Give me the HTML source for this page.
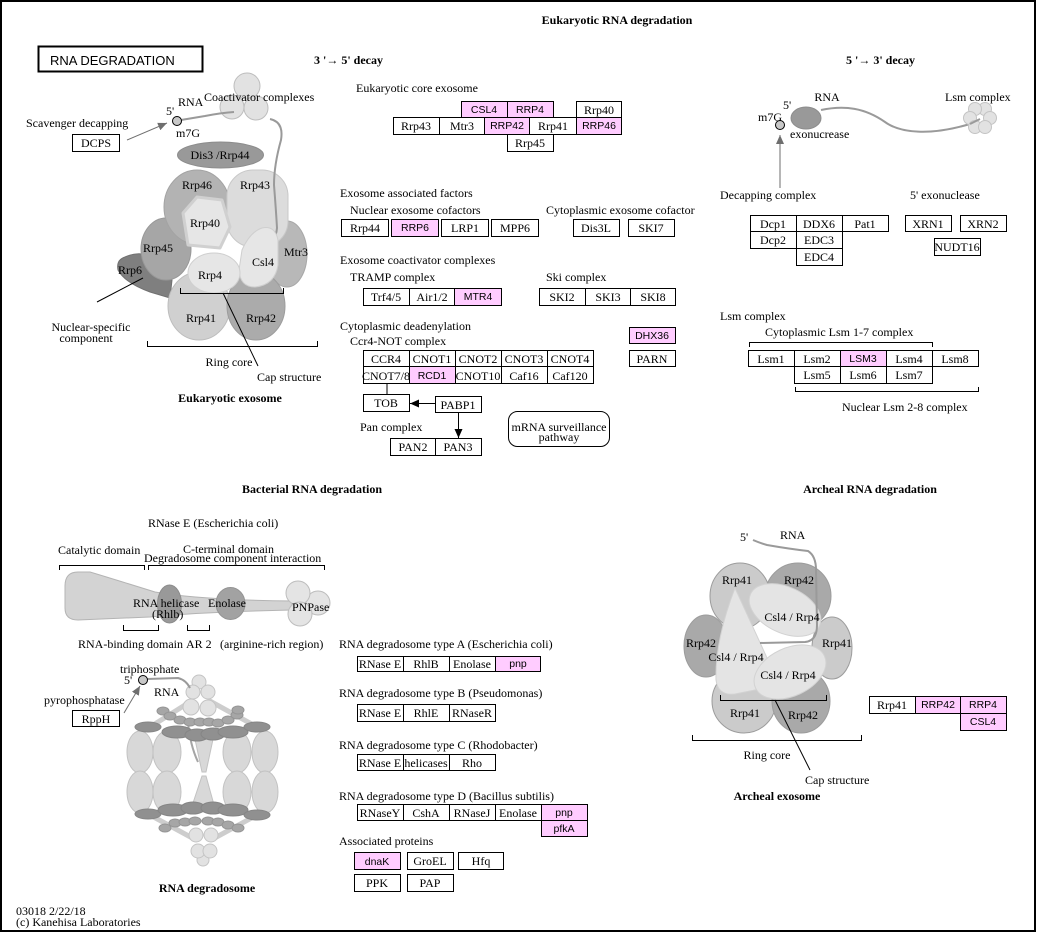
<!DOCTYPE html>
<html><head><meta charset="utf-8"><style>
body{margin:0;padding:0;background:#fff}
svg{display:block}
text{font-family:"Liberation Serif",serif;font-size:12px;fill:#000}
.b{font-weight:bold}
.m{text-anchor:middle}
.p{font-family:"Liberation Sans",sans-serif;font-size:10.5px;text-anchor:middle}
.bx{fill:#fff;stroke:#000;stroke-width:1}
.pk{fill:#ffccff;stroke:#000;stroke-width:1}
.br{fill:none;stroke:#000;stroke-width:1}
.rna{fill:none;stroke:#9a9a9a;stroke-width:2}
</style></head><body>
<svg width="1037" height="933" viewBox="0 0 1037 933" xmlns="http://www.w3.org/2000/svg">
<defs>
<marker id="ag" markerUnits="userSpaceOnUse" markerWidth="10" markerHeight="10" refX="9" refY="5" orient="auto"><path d="M0,1 L9,5 L0,9 z" fill="#6e6e6e"/></marker>
<marker id="ab" markerUnits="userSpaceOnUse" markerWidth="10" markerHeight="10" refX="9" refY="5" orient="auto"><path d="M0,1 L9,5 L0,9 z" fill="#000"/></marker>
</defs>
<rect x="0" y="0" width="1037" height="933" fill="#fff"/>
<rect x="1" y="1" width="1034" height="930" fill="none" stroke="#000" stroke-width="2"/>

<!-- Title -->
<rect x="38.5" y="46.5" width="164" height="25" fill="#fff" stroke="#000" stroke-width="2"/>
<text x="50" y="65" style="font-family:'Liberation Sans',sans-serif;font-size:13px">RNA  DEGRADATION</text>

<!-- Headings -->
<text class="b m" x="617" y="24">Eukaryotic RNA degradation</text>
<text class="b" x="314" y="64">3 '→ 5' decay</text>
<text class="b" x="846" y="64">5 '→ 3' decay</text>
<text class="b m" x="312" y="493">Bacterial RNA degradation</text>
<text class="b m" x="870" y="493">Archeal RNA degradation</text>

<!-- ===== Eukaryotic exosome illustration ===== -->
<g stroke="#bdbdbd" stroke-width="1">
<circle cx="247" cy="86" r="13" fill="#e2e2e2"/>
<circle cx="232" cy="107" r="12" fill="#e2e2e2"/>
<circle cx="256" cy="108" r="12" fill="#e2e2e2"/>
</g>
<path class="rna" d="M181,120 L205,116 Q220,113 234,112"/>
<path d="M125,257 Q140,250 155,258 L172,280 L170,298 L150,292 Q125,283 118,270 Q116,260 125,257 Z" fill="#7f7f7f" stroke="#707070"/>
<ellipse cx="166" cy="249" rx="25" ry="31" fill="#a6a6a6" stroke="#989898"/>
<ellipse cx="287" cy="254" rx="20" ry="33" fill="#b8b8b8" stroke="#a8a8a8"/>
<ellipse cx="199" cy="306" rx="31" ry="34" fill="#d0d0d0" stroke="#bdbdbd"/>
<ellipse cx="256" cy="306" rx="29" ry="34" fill="#ababab" stroke="#9c9c9c"/>
<ellipse cx="197" cy="207" rx="33" ry="37" fill="#b3b3b3" stroke="#a3a3a3"/>
<rect x="227" y="170" width="61" height="77" rx="26" fill="#dcdcdc" stroke="#c8c8c8"/>
<path d="M197,197 L222,200 L230,227 L220,248 L188,245 L183,213 Z" fill="#e6e6e6" stroke="#d0d0d0" stroke-width="3" stroke-linejoin="round"/>
<path class="rna" d="M270,119 Q284,122 281,140 Q274,165 274,185 Q276,210 277,228 Q276,243 260,245 L246,247"/>
<path d="M262,228 Q275,225 278,240 L278,265 Q275,285 255,287 Q240,287 239,270 L242,250 Q250,232 262,228 Z" fill="#e6e6e6" stroke="#cfcfcf"/>
<ellipse cx="214" cy="273" rx="26" ry="20" fill="#e6e6e6" stroke="#cfcfcf"/>
<ellipse cx="220.5" cy="155" rx="43" ry="13" fill="#999" stroke="#8c8c8c"/>
<circle cx="177" cy="121" r="4.5" fill="#c8c8c8" stroke="#000"/>
<line x1="127" y1="140" x2="167" y2="123" stroke="#6e6e6e" stroke-width="1" marker-end="url(#ag)"/>
<rect class="bx" x="72.5" y="134.5" width="47" height="17"/>
<text class="m" x="96" y="147">DCPS</text>
<text x="26" y="127">Scavenger decapping</text>
<text x="204" y="101">Coactivator complexes</text>
<text x="178" y="106">RNA</text>
<text x="166" y="115">5'</text>
<text x="176" y="137">m7G</text>
<text class="m" x="220" y="159">Dis3 /Rrp44</text>
<text class="m" x="197" y="189">Rrp46</text>
<text class="m" x="255" y="189">Rrp43</text>
<text class="m" x="205" y="227">Rrp40</text>
<text class="m" x="158" y="252">Rrp45</text>
<text class="m" x="296" y="256">Mtr3</text>
<text class="m" x="263" y="266">Csl4</text>
<text class="m" x="130" y="274">Rrp6</text>
<text class="m" x="210" y="279">Rrp4</text>
<text class="m" x="201" y="322">Rrp41</text>
<text class="m" x="261" y="322">Rrp42</text>
<path class="br" d="M180.5,288 V293.5 H283.5 V288"/>
<path class="br" d="M147.5,341 V346.5 H317.5 V341"/>
<line x1="223" y1="293" x2="258" y2="366" stroke="#000"/>
<line x1="97" y1="302" x2="143" y2="278" stroke="#000"/>
<text class="m" x="91" y="331">Nuclear-specific</text>
<text class="m" x="86" y="342">component</text>
<text class="m" x="229" y="366">Ring core</text>
<text x="257" y="381">Cap structure</text>
<text class="b m" x="230" y="402">Eukaryotic exosome</text>

<!-- ===== Core exosome boxes ===== -->
<text x="356" y="92">Eukaryotic core exosome</text>
<rect class="pk" x="461.5" y="101.5" width="46" height="16"/><text class="p" x="484" y="113">CSL4</text>
<rect class="pk" x="507.5" y="101.5" width="46" height="16"/><text class="p" x="530" y="113">RRP4</text>
<rect class="bx" x="576.5" y="101.5" width="45" height="16"/><text class="m" x="599" y="114">Rrp40</text>
<rect class="bx" x="393.5" y="117.5" width="46" height="17"/><text class="m" x="416" y="130">Rrp43</text>
<rect class="bx" x="439.5" y="117.5" width="45" height="17"/><text class="m" x="462" y="130">Mtr3</text>
<rect class="pk" x="484.5" y="117.5" width="45" height="17"/><text class="p" x="507" y="129">RRP42</text>
<rect class="bx" x="529.5" y="117.5" width="47" height="17"/><text class="m" x="553" y="130">Rrp41</text>
<rect class="pk" x="576.5" y="117.5" width="45" height="17"/><text class="p" x="599" y="129">RRP46</text>
<rect class="bx" x="507.5" y="134.5" width="46" height="17"/><text class="m" x="530" y="147">Rrp45</text>

<text x="340" y="197">Exosome associated factors</text>
<text x="350" y="214">Nuclear exosome cofactors</text>
<text x="546" y="214">Cytoplasmic exosome cofactor</text>
<rect class="bx" x="341.5" y="219.5" width="47" height="17"/><text class="m" x="365" y="232">Rrp44</text>
<rect class="pk" x="391.5" y="219.5" width="47" height="17"/><text class="p" x="415" y="231">RRP6</text>
<rect class="bx" x="441.5" y="219.5" width="47" height="17"/><text class="m" x="465" y="232">LRP1</text>
<rect class="bx" x="491.5" y="219.5" width="47" height="17"/><text class="m" x="515" y="232">MPP6</text>
<rect class="bx" x="573.5" y="219.5" width="46" height="17"/><text class="m" x="596" y="232">Dis3L</text>
<rect class="bx" x="628.5" y="219.5" width="46" height="17"/><text class="m" x="651" y="232">SKI7</text>

<text x="340" y="264">Exosome coactivator complexes</text>
<text x="350" y="281">TRAMP complex</text>
<text x="546" y="281">Ski complex</text>
<rect class="bx" x="363.5" y="288.5" width="46" height="17"/><text class="m" x="386" y="301">Trf4/5</text>
<rect class="bx" x="409.5" y="288.5" width="45" height="17"/><text class="m" x="432" y="301">Air1/2</text>
<rect class="pk" x="454.5" y="288.5" width="47" height="17"/><text class="p" x="478" y="300">MTR4</text>
<rect class="bx" x="539.5" y="288.5" width="46" height="17"/><text class="m" x="562" y="301">SKI2</text>
<rect class="bx" x="585.5" y="288.5" width="45" height="17"/><text class="m" x="608" y="301">SKI3</text>
<rect class="bx" x="630.5" y="288.5" width="45" height="17"/><text class="m" x="653" y="301">SKI8</text>

<text x="340" y="330">Cytoplasmic deadenylation</text>
<text x="350" y="345">Ccr4-NOT complex</text>
<rect class="pk" x="629.5" y="327.5" width="46" height="16"/><text class="p" x="652" y="339">DHX36</text>
<rect class="bx" x="629.5" y="350.5" width="46" height="16"/><text class="m" x="652" y="363">PARN</text>
<rect class="bx" x="363.5" y="350.5" width="46" height="16"/><text class="m" x="386" y="363">CCR4</text>
<rect class="bx" x="409.5" y="350.5" width="46" height="16"/><text class="m" x="432" y="363">CNOT1</text>
<rect class="bx" x="455.5" y="350.5" width="46" height="16"/><text class="m" x="478" y="363">CNOT2</text>
<rect class="bx" x="501.5" y="350.5" width="46" height="16"/><text class="m" x="524" y="363">CNOT3</text>
<rect class="bx" x="547.5" y="350.5" width="46" height="16"/><text class="m" x="570" y="363">CNOT4</text>
<rect class="bx" x="363.5" y="366.5" width="46" height="17"/><text class="m" x="386" y="380">CNOT7/8</text>
<rect class="pk" x="409.5" y="366.5" width="46" height="17"/><text class="p" x="432" y="379">RCD1</text>
<rect class="bx" x="455.5" y="366.5" width="46" height="17"/><text class="m" x="478" y="380">CNOT10</text>
<rect class="bx" x="501.5" y="366.5" width="46" height="17"/><text class="m" x="524" y="380">Caf16</text>
<rect class="bx" x="547.5" y="366.5" width="46" height="17"/><text class="m" x="570" y="380">Caf120</text>
<line x1="387" y1="384" x2="387" y2="394" stroke="#000"/>
<rect class="bx" x="363.5" y="394.5" width="46" height="17"/><text class="m" x="386" y="407">TOB</text>
<rect class="bx" x="435.5" y="396.5" width="46" height="16"/><text class="m" x="458" y="409">PABP1</text>
<line x1="435" y1="403.5" x2="410" y2="403.5" stroke="#000" marker-end="url(#ab)"/>
<line x1="458.5" y1="413" x2="458.5" y2="438" stroke="#000" marker-end="url(#ab)"/>
<text x="360" y="431">Pan complex</text>
<rect class="bx" x="390.5" y="438.5" width="45" height="17"/><text class="m" x="413" y="451">PAN2</text>
<rect class="bx" x="435.5" y="438.5" width="46" height="17"/><text class="m" x="458" y="451">PAN3</text>
<rect x="508.5" y="411.5" width="101" height="35" rx="9" fill="#fff" stroke="#000"/>
<text class="m" x="559" y="431">mRNA surveillance</text>
<text class="m" x="559" y="441">pathway</text>

<!-- ===== 5'->3' decay ===== -->
<path class="rna" d="M821,110 C845,105 865,108 885,122 C900,133 930,136 970,124"/>
<ellipse cx="806" cy="118" rx="15" ry="11" fill="#999" stroke="#8c8c8c"/>
<g fill="#e2e2e2" stroke="#c4c4c4">
<circle cx="985" cy="109" r="6.5"/><circle cx="975" cy="109" r="6.5"/>
<circle cx="990" cy="118" r="6.5"/><circle cx="970" cy="118" r="6.5"/>
<circle cx="975" cy="127" r="6.5"/><circle cx="985" cy="127" r="6.5"/>
</g>
<line x1="970" y1="124" x2="980" y2="119" stroke="#9a9a9a" stroke-width="2"/>
<circle cx="780" cy="125" r="4.5" fill="#c8c8c8" stroke="#000"/>
<line x1="780" y1="188" x2="780" y2="135" stroke="#6e6e6e" marker-end="url(#ag)"/>
<text class="m" x="827" y="101">RNA</text>
<text x="945" y="101">Lsm complex</text>
<text x="783" y="109">5'</text>
<text x="758" y="121">m7G</text>
<text x="790" y="138">exonucrease</text>
<text x="720" y="199">Decapping complex</text>
<text x="910" y="199">5' exonuclease</text>
<rect class="bx" x="750.5" y="215.5" width="46" height="16"/><text class="m" x="773" y="228">Dcp1</text>
<rect class="bx" x="796.5" y="215.5" width="46" height="16"/><text class="m" x="819" y="228">DDX6</text>
<rect class="bx" x="842.5" y="215.5" width="46" height="16"/><text class="m" x="865" y="228">Pat1</text>
<rect class="bx" x="750.5" y="231.5" width="46" height="17"/><text class="m" x="773" y="244">Dcp2</text>
<rect class="bx" x="796.5" y="231.5" width="46" height="17"/><text class="m" x="819" y="244">EDC3</text>
<rect class="bx" x="796.5" y="248.5" width="46" height="17"/><text class="m" x="819" y="261">EDC4</text>
<rect class="bx" x="905.5" y="215.5" width="46" height="16"/><text class="m" x="928" y="228">XRN1</text>
<rect class="bx" x="960.5" y="215.5" width="46" height="16"/><text class="m" x="983" y="228">XRN2</text>
<rect class="bx" x="934.5" y="238.5" width="46" height="17"/><text class="m" x="957" y="251">NUDT16</text>

<text x="720" y="320">Lsm complex</text>
<text x="765" y="336">Cytoplasmic Lsm 1-7 complex</text>
<path class="br" d="M749.5,347 V342.5 H932.5 V347"/>
<rect class="bx" x="748.5" y="350.5" width="46" height="16"/><text class="m" x="771" y="363">Lsm1</text>
<rect class="bx" x="794.5" y="350.5" width="46" height="16"/><text class="m" x="817" y="363">Lsm2</text>
<rect class="pk" x="840.5" y="350.5" width="46" height="16"/><text class="p" x="863" y="362">LSM3</text>
<rect class="bx" x="886.5" y="350.5" width="46" height="16"/><text class="m" x="909" y="363">Lsm4</text>
<rect class="bx" x="932.5" y="350.5" width="46" height="16"/><text class="m" x="955" y="363">Lsm8</text>
<rect class="bx" x="794.5" y="366.5" width="46" height="17"/><text class="m" x="817" y="379">Lsm5</text>
<rect class="bx" x="840.5" y="366.5" width="46" height="17"/><text class="m" x="863" y="379">Lsm6</text>
<rect class="bx" x="886.5" y="366.5" width="46" height="17"/><text class="m" x="909" y="379">Lsm7</text>
<path class="br" d="M795.5,387 V391.5 H978.5 V387"/>
<text x="842" y="411">Nuclear Lsm 2-8 complex</text>

<!-- ===== Bacterial RNase E ===== -->
<text x="148" y="527">RNase E (Escherichia coli)</text>
<text x="58" y="554">Catalytic domain</text>
<text x="183" y="553">C-terminal domain</text>
<text x="144" y="562">Degradosome component interaction</text>
<path class="br" d="M59.5,570 V565.5 H144.5 V570"/>
<path class="br" d="M148.5,570 V565.5 H324.5 V570"/>
<path d="M78,572 Q65,572 65,586 L65,608 Q65,620 78,620 L150,617 Q200,612 292,610 L292,601 Q200,600 155,592 Q110,578 90,572 Z" fill="#d3d3d3" stroke="#b4b4b4"/>
<ellipse cx="169.5" cy="604" rx="12" ry="19" fill="#999" stroke="#8c8c8c"/>
<ellipse cx="230.5" cy="603.5" rx="14.5" ry="16" fill="#a2a2a2" stroke="#939393"/>
<g fill="#e4e4e4" stroke="#bdbdbd">
<circle cx="318" cy="603" r="12"/>
<circle cx="298" cy="593" r="12"/>
<circle cx="300" cy="614" r="12"/>
</g>
<text x="133" y="607">RNA helicase</text>
<text x="152" y="618">(Rhlb)</text>
<text x="208" y="607">Enolase</text>
<text x="292" y="611">PNPase</text>
<path class="br" d="M123.5,625 V630.5 H158.5 V625"/>
<path class="br" d="M187.5,625 V630.5 H209.5 V625"/>
<text x="78" y="648">RNA-binding domain</text>
<text x="186" y="648">AR 2</text>
<text x="220" y="648">(arginine-rich region)</text>

<!-- ===== RNA degradosome illustration ===== -->
<g stroke="#cdcdcd" stroke-width="5" fill="none">
<path d="M193,700 L150,727 M208,700 L257,727 M196,840 L150,815 M211,840 L257,815"/>
</g>
<g fill="#d8d8d8" stroke="#c2c2c2">
<ellipse cx="140" cy="752" rx="13" ry="21"/>
<ellipse cx="167" cy="752" rx="14" ry="21"/>
<ellipse cx="237" cy="752" rx="14" ry="21"/>
<ellipse cx="265" cy="752" rx="13" ry="21"/>
<ellipse cx="140" cy="792" rx="13" ry="21"/>
<ellipse cx="167" cy="792" rx="14" ry="21"/>
<ellipse cx="237" cy="792" rx="14" ry="21"/>
<ellipse cx="265" cy="792" rx="13" ry="21"/>
<path d="M193,730 L215,730 L206,772 L202,772 Z"/>
<path d="M202,776 L206,776 L216,812 L190,812 Z"/>
</g>
<path d="M188,722 Q190,745 198,762" fill="none" stroke="#a5a5a5" stroke-width="2"/>
<g fill="#909090" stroke="#858585">
<ellipse cx="148" cy="727" rx="13" ry="5"/>
<ellipse cx="177" cy="732" rx="15" ry="6"/>
<ellipse cx="197" cy="735" rx="12" ry="6"/>
<ellipse cx="213" cy="734" rx="12" ry="6"/>
<ellipse cx="233" cy="732" rx="15" ry="6"/>
<ellipse cx="257" cy="727" rx="13" ry="5"/>
<ellipse cx="148" cy="814" rx="13" ry="5"/>
<ellipse cx="173" cy="810" rx="15" ry="6"/>
<ellipse cx="193" cy="808" rx="12" ry="6"/>
<ellipse cx="213" cy="808" rx="12" ry="6"/>
<ellipse cx="233" cy="810" rx="15" ry="6"/>
<ellipse cx="257" cy="815" rx="13" ry="5"/>
</g>
<g fill="#a6a6a6" stroke="#959595">
<ellipse cx="163" cy="711" rx="6" ry="4"/><ellipse cx="170" cy="716" rx="6" ry="4"/>
<ellipse cx="180" cy="720" rx="6" ry="4"/><ellipse cx="190" cy="722" rx="6" ry="4"/>
<ellipse cx="200" cy="722" rx="6" ry="4"/><ellipse cx="209" cy="722" rx="6" ry="4"/>
<ellipse cx="218" cy="723" rx="6" ry="4"/><ellipse cx="228" cy="720" rx="6" ry="4"/>
<ellipse cx="237" cy="715" rx="6" ry="4"/><ellipse cx="238" cy="710" rx="6" ry="4"/>
<ellipse cx="165" cy="828" rx="6" ry="4"/><ellipse cx="175" cy="823" rx="6" ry="4"/>
<ellipse cx="185" cy="822" rx="6" ry="4"/><ellipse cx="195" cy="821" rx="6" ry="4"/>
<ellipse cx="208" cy="821" rx="6" ry="4"/><ellipse cx="218" cy="822" rx="6" ry="4"/>
<ellipse cx="228" cy="825" rx="6" ry="4"/><ellipse cx="238" cy="828" rx="6" ry="4"/>
</g>
<g fill="#e2e2e2" stroke="#c4c4c4">
<circle cx="199" cy="682" r="7"/>
<circle cx="193" cy="692" r="7"/><circle cx="208" cy="692" r="7"/>
<circle cx="191" cy="707" r="8"/><circle cx="208" cy="708" r="8"/>
<circle cx="196" cy="835" r="7"/><circle cx="211" cy="835" r="7"/>
<circle cx="203" cy="860" r="6"/>
<circle cx="198" cy="851" r="7"/><circle cx="210" cy="851" r="7"/>
</g>
<path class="rna" d="M147,679 L178,678 Q186,680 190,688"/>
<circle cx="143" cy="680" r="4.5" fill="#c8c8c8" stroke="#000"/>
<line x1="124" y1="713" x2="140" y2="686" stroke="#6e6e6e" marker-end="url(#ag)"/>
<rect class="bx" x="72.5" y="710.5" width="47" height="16"/><text class="m" x="96" y="723">RppH</text>
<text x="120" y="673">triphosphate</text>
<text x="124" y="684">5'</text>
<text x="154" y="696">RNA</text>
<text x="44" y="704">pyrophosphatase</text>
<text class="b m" x="207" y="892">RNA degradosome</text>
<text x="16" y="915">03018 2/22/18</text>
<text x="16" y="926">(c) Kanehisa Laboratories</text>

<!-- ===== Degradosome types ===== -->
<text x="339" y="648">RNA degradosome type A (Escherichia coli)</text>
<rect class="bx" x="357.5" y="656.5" width="46" height="15"/><text class="m" x="380" y="668">RNase E</text>
<rect class="bx" x="403.5" y="656.5" width="46" height="15"/><text class="m" x="426" y="668">RhlB</text>
<rect class="bx" x="449.5" y="656.5" width="46" height="15"/><text class="m" x="472" y="668">Enolase</text>
<rect class="pk" x="495.5" y="656.5" width="45" height="15"/><text class="p" x="518" y="667">pnp</text>

<text x="339" y="697">RNA degradosome type B (Pseudomonas)</text>
<rect class="bx" x="357.5" y="704.5" width="46" height="17"/><text class="m" x="380" y="717">RNase E</text>
<rect class="bx" x="403.5" y="704.5" width="46" height="17"/><text class="m" x="426" y="717">RhlE</text>
<rect class="bx" x="449.5" y="704.5" width="46" height="17"/><text class="m" x="472" y="717">RNaseR</text>

<text x="339" y="749">RNA degradosome type C (Rhodobacter)</text>
<rect class="bx" x="357.5" y="754.5" width="46" height="16"/><text class="m" x="380" y="767">RNase E</text>
<rect class="bx" x="403.5" y="754.5" width="46" height="16"/><text class="m" x="426" y="767">helicases</text>
<rect class="bx" x="449.5" y="754.5" width="46" height="16"/><text class="m" x="472" y="767">Rho</text>

<text x="339" y="800">RNA degradosome type D (Bacillus subtilis)</text>
<rect class="bx" x="357.5" y="804.5" width="46" height="16"/><text class="m" x="380" y="817">RNaseY</text>
<rect class="bx" x="403.5" y="804.5" width="46" height="16"/><text class="m" x="426" y="817">CshA</text>
<rect class="bx" x="449.5" y="804.5" width="46" height="16"/><text class="m" x="472" y="817">RNaseJ</text>
<rect class="bx" x="495.5" y="804.5" width="46" height="16"/><text class="m" x="518" y="817">Enolase</text>
<rect class="pk" x="541.5" y="804.5" width="46" height="16"/><text class="p" x="564" y="816">pnp</text>
<rect class="pk" x="541.5" y="820.5" width="46" height="16"/><text class="p" x="564" y="832">pfkA</text>

<text x="339" y="845">Associated proteins</text>
<rect class="pk" x="354.5" y="852.5" width="46" height="17"/><text class="p" x="377" y="865">dnaK</text>
<rect class="bx" x="407.5" y="852.5" width="46" height="17"/><text class="m" x="430" y="865">GroEL</text>
<rect class="bx" x="458.5" y="852.5" width="45" height="17"/><text class="m" x="481" y="865">Hfq</text>
<rect class="bx" x="354.5" y="874.5" width="46" height="17"/><text class="m" x="377" y="887">PPK</text>
<rect class="bx" x="407.5" y="874.5" width="46" height="17"/><text class="m" x="430" y="887">PAP</text>

<!-- ===== Archeal exosome ===== -->
<g stroke="#9c9c9c">
<ellipse cx="706" cy="646" rx="22" ry="31" fill="#a9a9a9"/>
<ellipse cx="832" cy="648" rx="20" ry="31" fill="#cbcbcb"/>
<ellipse cx="744" cy="701" rx="32" ry="32" fill="#cbcbcb"/>
<ellipse cx="801" cy="701" rx="29" ry="32" fill="#a9a9a9"/>
<ellipse cx="798" cy="596" rx="33" ry="33" fill="#a9a9a9"/>
<ellipse cx="740" cy="596" rx="30" ry="33" fill="#cbcbcb"/>
</g>
<g fill="#e4e4e4" stroke="#d2d2d2">
<ellipse cx="785" cy="610" rx="38" ry="23" transform="rotate(25 785 610)"/>
<path d="M735,588 Q715,640 716,680 Q718,696 735,694 L765,688 Q775,680 768,660 Z"/>
<ellipse cx="790" cy="672" rx="38" ry="24" transform="rotate(-25 790 672)"/>
</g>
<path class="rna" d="M753,540 Q760,543 767,545 Q790,549 808,551 Q816,556 816,570 L817,625 Q817,641 805,642 L760,643"/>
<text x="740" y="541">5'</text>
<text x="780" y="539">RNA</text>
<text class="m" x="737" y="584">Rrp41</text>
<text class="m" x="799" y="584">Rrp42</text>
<text class="m" x="792" y="621">Csl4 / Rrp4</text>
<text class="m" x="701" y="647">Rrp42</text>
<text class="m" x="837" y="647">Rrp41</text>
<text class="m" x="736" y="661">Csl4 / Rrp4</text>
<text class="m" x="788" y="679">Csl4 / Rrp4</text>
<text class="m" x="745" y="717">Rrp41</text>
<text class="m" x="803" y="719">Rrp42</text>
<path class="br" d="M720.5,695 V700.5 H826.5 V695"/>
<path class="br" d="M692.5,735 V740.5 H861.5 V735"/>
<line x1="775" y1="700" x2="810" y2="770" stroke="#000"/>
<text class="m" x="767" y="759">Ring core</text>
<text x="805" y="784">Cap structure</text>
<text class="b m" x="777" y="800">Archeal exosome</text>
<rect class="bx" x="869.5" y="696.5" width="46" height="17"/><text class="m" x="892" y="709">Rrp41</text>
<rect class="pk" x="915.5" y="696.5" width="45" height="17"/><text class="p" x="938" y="708">RRP42</text>
<rect class="pk" x="960.5" y="696.5" width="46" height="17"/><text class="p" x="983" y="708">RRP4</text>
<rect class="pk" x="960.5" y="713.5" width="46" height="17"/><text class="p" x="983" y="725">CSL4</text>
</svg>
</body></html>
